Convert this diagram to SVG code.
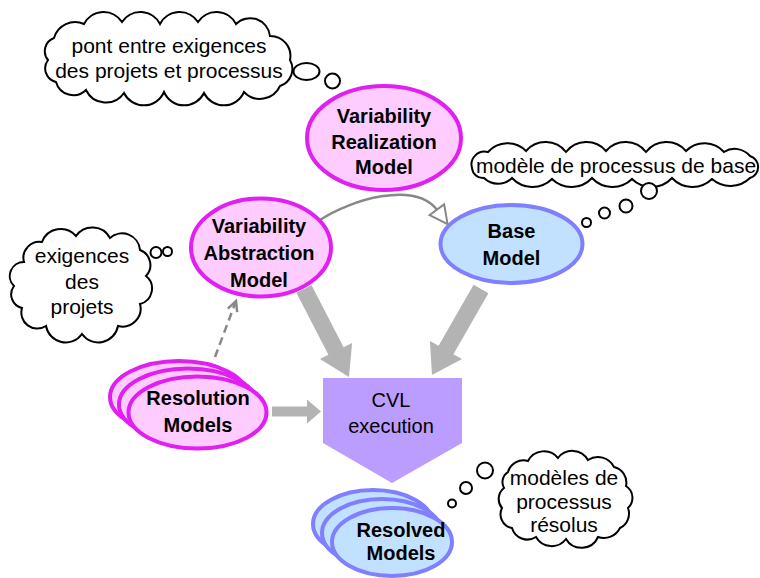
<svg xmlns="http://www.w3.org/2000/svg" width="760" height="578" viewBox="0 0 760 578">
<style>
.cloud{fill:#ffffff;stroke:#000000;stroke-width:2}
.ct{font-family:"Liberation Sans",Arial,sans-serif;font-size:21px;fill:#000;text-anchor:middle}
.nt{font-family:"Liberation Sans",Arial,sans-serif;font-size:20px;font-weight:bold;fill:#000;text-anchor:middle}
.pink{fill:#ffccff;stroke:#e020f0;stroke-width:4}
.blue{fill:#c2e0ff;stroke:#7f7fff;stroke-width:4}
.fat{fill:#b3b3b3;stroke:none}
.thin{fill:none;stroke:#888888;stroke-width:2.5}
</style>
<defs>
<marker id="tri" markerUnits="userSpaceOnUse" markerWidth="24" markerHeight="24" refX="1" refY="9" orient="auto" viewBox="-2 -2 24 22">
<path d="M0,0 L18,9 L0,18 Z" fill="#ffffff" stroke="#888888" stroke-width="2"/>
</marker>
<marker id="vee" markerUnits="userSpaceOnUse" markerWidth="16" markerHeight="16" refX="10" refY="5" orient="auto" viewBox="-2 -2 16 14">
<path d="M0,0 L10,5 L0,10" fill="none" stroke="#888888" stroke-width="2.5"/>
</marker>
</defs>

<g id="connectors">
<path class="thin" d="M320,220 C350,200 415,180 437.5,210.5" marker-end="url(#tri)"/>
<path class="thin" d="M215,357 L236,301" stroke-dasharray="8,5" marker-end="url(#vee)"/>
<polygon class="fat" points="296.4,292.8 328.4,354.8 319.9,359 349,377 352.1,343 343.6,347.2 311.6,285.2"/>
<polygon class="fat" points="473.6,284.8 438.6,345.8 429.9,340.9 432,375 462.1,359.1 453.4,354.2 488.4,293.2"/>
<polygon class="fat" points="272,406.5 307,406.5 307,399.5 321,411.5 307,423.5 307,416.5 272,416.5"/>
</g>

<g id="cloud-pont">
<path class="cloud" d="M54,38 A22,22 0 0 1 84,24 A22,22 0 0 1 122,22 A22,22 0 0 1 160,24 A22,22 0 0 1 198,22 A22,22 0 0 1 236,24 A20,20 0 0 1 270,36 A20,20 0 0 1 290,60 A18,18 0 0 1 280,86 A22,22 0 0 1 244,92 A22,22 0 0 1 204,93 A22,22 0 0 1 164,92 A22,22 0 0 1 124,93 A22,22 0 0 1 86,90 A18,18 0 0 1 56,82 A14,14 0 0 1 48,60 A14,14 0 0 1 54,38 Z"/>
<ellipse class="cloud" cx="306.5" cy="71.5" rx="13" ry="8.5"/>
<circle class="cloud" cx="332.5" cy="81" r="7.5"/>
<text class="ct" x="169" y="53">pont entre exigences</text>
<text class="ct" x="169" y="78">des projets et processus</text>
</g>

<g id="cloud-base">
<path class="cloud" d="M472,168 A13,13 0 0 1 488,152 A26,26 0 0 1 526,151 A26,26 0 0 1 566,152 A26,26 0 0 1 606,151 A26,26 0 0 1 646,152 A26,26 0 0 1 686,151 A26,26 0 0 1 724,152 A20,20 0 0 1 750,156 A11.5,11.5 0 0 1 750,178 A28,28 0 0 1 712,179 A28,28 0 0 1 672,178 A28,28 0 0 1 632,179 A28,28 0 0 1 592,178 A28,28 0 0 1 552,179 A28,28 0 0 1 512,178 A20,20 0 0 1 484,178 A11,11 0 0 1 472,168 Z"/>
<circle class="cloud" cx="649" cy="191" r="8"/>
<circle class="cloud" cx="626" cy="206" r="6.5"/>
<circle class="cloud" cx="604.5" cy="213" r="5.5"/>
<circle class="cloud" cx="586.5" cy="222.5" r="4.5"/>
<text class="ct" x="616" y="173">modèle de processus de base</text>
</g>

<g id="cloud-exigences">
<path class="cloud" d="M24,262 A16,16 0 0 1 42,242 A20,20 0 0 1 76,236 A20,20 0 0 1 110,238 A18,18 0 0 1 140,250 A16,16 0 0 1 146,276 A16,16 0 0 1 140,304 A18,18 0 0 1 118,326 A20,20 0 0 1 82,334 A20,20 0 0 1 46,326 A16,16 0 0 1 22,308 A14,14 0 0 1 14,286 A14,14 0 0 1 24,262 Z"/>
<circle class="cloud" cx="156" cy="252.5" r="5.5"/>
<circle class="cloud" cx="167.5" cy="251.5" r="4.5"/>
<text class="ct" x="82" y="263">exigences</text>
<text class="ct" x="82" y="289">des</text>
<text class="ct" x="82" y="314">projets</text>
</g>

<g id="cloud-resolus">
<path class="cloud" d="M508,472 A16,16 0 0 1 528,461 A18,18 0 0 1 558,458 A18,18 0 0 1 588,460 A18,18 0 0 1 614,467 A16,16 0 0 1 626,486 A14,14 0 0 1 628,508 A16,16 0 0 1 620,528 A18,18 0 0 1 598,537 A18,18 0 0 1 566,539 A18,18 0 0 1 536,537 A16,16 0 0 1 512,528 A14,14 0 0 1 502,508 A14,14 0 0 1 504,488 A12,12 0 0 1 508,472 Z"/>
<circle class="cloud" cx="485" cy="470.5" r="8"/>
<circle class="cloud" cx="466" cy="488" r="6"/>
<circle class="cloud" cx="452" cy="503.5" r="4"/>
<text class="ct" x="564" y="485">modèles de</text>
<text class="ct" x="564" y="508.5">processus</text>
<text class="ct" x="564" y="532">résolus</text>
</g>

<g id="variability-realization-model">
<ellipse class="pink" cx="384" cy="138" rx="77" ry="52"/>
<text class="nt" x="384" y="123">Variability</text>
<text class="nt" x="384" y="148.5">Realization</text>
<text class="nt" x="384" y="174">Model</text>
</g>

<g id="variability-abstraction-model">
<ellipse class="pink" cx="261" cy="247.5" rx="70" ry="49"/>
<text class="nt" x="259" y="233">Variability</text>
<text class="nt" x="259" y="260">Abstraction</text>
<text class="nt" x="259" y="286.5">Model</text>
</g>

<g id="base-model">
<ellipse class="blue" cx="511.5" cy="244" rx="71" ry="39"/>
<text class="nt" x="511.5" y="238">Base</text>
<text class="nt" x="511.5" y="265">Model</text>
</g>

<g id="resolution-models">
<ellipse class="pink" cx="179" cy="397" rx="69" ry="36"/>
<ellipse class="pink" cx="188" cy="404.5" rx="69" ry="36"/>
<ellipse class="pink" cx="197.5" cy="412.5" rx="69" ry="36"/>
<text class="nt" x="198" y="405">Resolution</text>
<text class="nt" x="198" y="431.5">Models</text>
</g>

<g id="cvl-execution">
<polygon points="323,378 462,378 462,443 392,483 323,443" fill="#bb9cff"/>
<text class="ct" style="font-size:20px" x="391" y="406.5">CVL</text>
<text class="ct" style="font-size:20px" x="391" y="433">execution</text>
</g>

<g id="resolved-models">
<ellipse class="blue" cx="373" cy="524" rx="60" ry="34"/>
<ellipse class="blue" cx="382" cy="533" rx="60" ry="34"/>
<ellipse class="blue" cx="392" cy="542" rx="60" ry="34"/>
<text class="nt" x="401" y="536.5">Resolved</text>
<text class="nt" x="401" y="560">Models</text>
</g>
</svg>
